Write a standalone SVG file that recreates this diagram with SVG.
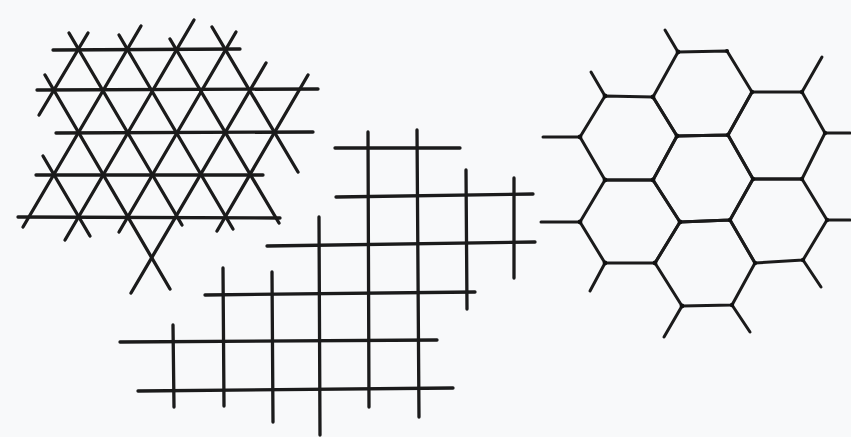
<svg xmlns="http://www.w3.org/2000/svg" width="851" height="437" viewBox="0 0 851 437">
<style>
.ln{stroke:#1b1b1b;stroke-width:3.3;stroke-linecap:round;fill:none}
.hx{stroke:#1b1b1b;stroke-width:3;stroke-linejoin:round;stroke-linecap:round;fill:none}
.dt{fill:#111}
</style>
<rect width="851" height="437" fill="#f8f9fa"/>
<g id="triangular-lattice" class="ln">
<line x1="53" y1="50" x2="240" y2="49"/>
<line x1="37" y1="90" x2="318" y2="89"/>
<line x1="56" y1="133" x2="313" y2="132"/>
<line x1="36" y1="175" x2="263" y2="175"/>
<line x1="18" y1="217" x2="280" y2="218"/>
<line x1="88" y1="33" x2="39" y2="115"/>
<line x1="141" y1="26" x2="23" y2="227"/>
<line x1="194" y1="20" x2="65" y2="240"/>
<line x1="236" y1="32" x2="119" y2="232"/>
<line x1="266" y1="63" x2="131" y2="293"/>
<line x1="308" y1="75" x2="217" y2="231"/>
<line x1="43" y1="156" x2="90" y2="236"/>
<line x1="45" y1="75" x2="170" y2="289"/>
<line x1="69" y1="33" x2="182" y2="225"/>
<line x1="119" y1="35" x2="233" y2="229"/>
<line x1="170" y1="39" x2="279" y2="223"/>
<line x1="212" y1="27" x2="298" y2="172"/>
</g>
<g id="square-grid" class="ln">
<line x1="335" y1="148" x2="460" y2="148"/>
<line x1="336" y1="197" x2="533" y2="194"/>
<line x1="267" y1="246" x2="535" y2="242"/>
<line x1="205" y1="295" x2="475" y2="292"/>
<line x1="120" y1="342" x2="437" y2="340"/>
<line x1="138" y1="391" x2="453" y2="388"/>
<line x1="173" y1="325" x2="174" y2="407"/>
<line x1="223" y1="268" x2="224" y2="406"/>
<line x1="272" y1="272" x2="273" y2="422"/>
<line x1="319" y1="217" x2="320" y2="435"/>
<line x1="368" y1="132" x2="369" y2="407"/>
<line x1="417" y1="130" x2="419" y2="417"/>
<line x1="466" y1="170" x2="467" y2="309"/>
<line x1="514" y1="178" x2="514" y2="278"/>
</g>
<g id="hexagonal-lattice" class="hx">
<path d="M678 52 L727 51 L752 92 L728 135 L677 136 L653 97 Z"/>
<path d="M605 96 L653 97 L677 136 L653 180 L605 180 L580 137 Z"/>
<path d="M752 92 L802 92 L825 133 L802 179 L753 179 L728 135 Z"/>
<path d="M677 136 L728 135 L753 179 L730 220 L680 222 L653 180 Z"/>
<path d="M605 180 L653 180 L680 222 L655 263 L605 263 L580 222 Z"/>
<path d="M753 179 L802 179 L827 220 L803 260 L755 263 L730 220 Z"/>
<path d="M680 222 L730 220 L755 263 L732 305 L682 306 L655 263 Z"/>
<line x1="678" y1="52" x2="665" y2="30"/>
<line x1="605" y1="96" x2="591" y2="72"/>
<line x1="580" y1="137" x2="543" y2="137"/>
<line x1="802" y1="92" x2="822" y2="57"/>
<line x1="825" y1="133" x2="850" y2="133"/>
<line x1="580" y1="222" x2="541" y2="222"/>
<line x1="827" y1="220" x2="850" y2="220"/>
<line x1="605" y1="263" x2="590" y2="291"/>
<line x1="803" y1="260" x2="821" y2="287"/>
<line x1="682" y1="306" x2="664" y2="337"/>
<line x1="732" y1="305" x2="750" y2="332"/>
</g>
<g id="hex-joints" class="dt">
<circle cx="678" cy="52" r="2.4"/><circle cx="727" cy="51" r="2"/>
<circle cx="605" cy="96" r="2.4"/><circle cx="653" cy="97" r="2.4"/><circle cx="752" cy="92" r="2.2"/><circle cx="802" cy="92" r="2.2"/>
<circle cx="580" cy="137" r="2.4"/><circle cx="677" cy="136" r="2.4"/><circle cx="728" cy="135" r="2.2"/><circle cx="825" cy="133" r="2.2"/>
<circle cx="605" cy="180" r="2.4"/><circle cx="653" cy="180" r="2.4"/><circle cx="753" cy="179" r="2.2"/><circle cx="802" cy="179" r="2.2"/>
<circle cx="580" cy="222" r="2.4"/><circle cx="680" cy="222" r="2.4"/><circle cx="730" cy="220" r="2.2"/><circle cx="827" cy="220" r="2.2"/>
<circle cx="605" cy="263" r="2.4"/><circle cx="655" cy="263" r="2.4"/><circle cx="755" cy="263" r="2.2"/><circle cx="803" cy="260" r="2.2"/>
<circle cx="682" cy="306" r="2.4"/><circle cx="732" cy="305" r="2.2"/>
</g>
</svg>
